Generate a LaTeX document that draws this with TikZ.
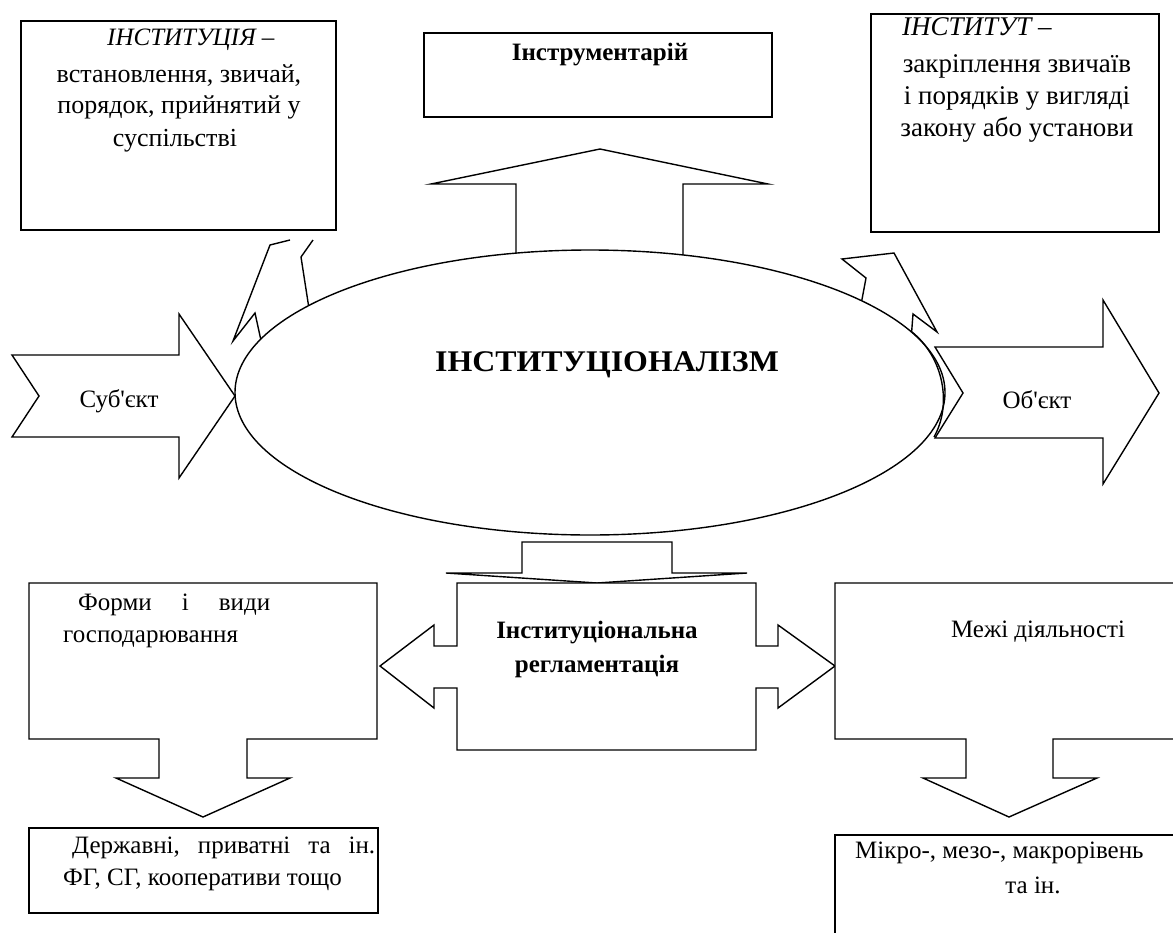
\documentclass[tikz,border=0pt]{standalone}
\usepackage{fontspec}
\usepackage{graphicx}
\setmainfont{Liberation Serif}[Ligatures=TeXOff]
\usetikzlibrary{shapes.geometric}
\begin{document}
\begin{tikzpicture}[x=1pt,y=-1pt,
  shp/.style={draw=black, line width=1.4pt, line join=miter, fill=white},
  ln/.style={draw=black, line width=1.4pt, line join=miter},
  txt/.style={inner sep=0pt, font=\fontsize{25}{30}\selectfont},
  btxt/.style={inner sep=0pt, font=\fontsize{25}{30}\selectfont\bfseries},
  rtxt/.style={inner sep=0pt, font=\fontsize{27}{32}\selectfont}]
\useasboundingbox (0,0) rectangle (1173,932);
\fill[white] (0,0) rectangle (1173,932);

% top boxes
\draw[shp] (21,21) rectangle (336,230);
\draw[shp] (424,33) rectangle (772,117);
\draw[shp] (871,14) rectangle (1159,232);

% small curved arrows (visible fragments)
\draw[ln] (262,345) -- (255,313) -- (233,341) -- (270,245) -- (290,240);
\draw[ln] (313,240) -- (301,257) -- (310,315);
\draw[ln] (860,310) -- (866,278) -- (842,259) -- (894,253) -- (937,332) -- (913,314) -- (911,340);

% up arrow
\draw[shp] (516,270) -- (516,184) -- (431,184) -- (600,149) -- (768,184) -- (683,184) -- (683,270);

% side arrows
\draw[shp] (12,355) -- (179,355) -- (179,314) -- (235,396) -- (179,478) -- (179,437) -- (12,437) -- (39,396) -- cycle;
\draw[shp] (935,347) -- (1103,347) -- (1103,300) -- (1159,393) -- (1103,484) -- (1103,438) -- (935,438) -- (963,393) -- cycle;

% ellipse
\node[shp, ellipse, minimum width=710pt, minimum height=285pt, inner sep=0pt] (ell) at (590,392.5) {};
\draw[ln] (912,332) .. controls (944,358) and (952,405) .. (934,437);

% down arrow to regulation box
\draw[shp] (522,573) -- (522,542) -- (672,542) -- (672,573) -- (747,573) -- (597,583) -- (446,573) -- cycle;

% regulation box with double arrow
\draw[shp] (457,583) -- (756,583) -- (756,646) -- (778,646) -- (778,625) -- (835,666) -- (778,708) -- (778,688) -- (756,688) -- (756,750) -- (457,750) -- (457,688) -- (434,688) -- (434,708) -- (380,666) -- (434,625) -- (434,646) -- (457,646) -- cycle;

% bottom-left
\draw[shp] (29,583) -- (377,583) -- (377,739) -- (247,739) -- (247,778) -- (290,778) -- (203,817) -- (116,778) -- (159,778) -- (159,739) -- (29,739) -- cycle;
\draw[shp] (29,828) rectangle (378,913);

% bottom-right
\draw[shp] (835,583) -- (1185,583) -- (1185,739) -- (1053,739) -- (1053,778) -- (1097,778) -- (1009,817) -- (923,778) -- (966,778) -- (966,739) -- (835,739) -- cycle;
\draw[shp] (835,835) rectangle (1185,945);

% texts
\node[txt, anchor=base west] (t1a) at (107,45) {\itshape ІНСТИТУЦІЯ –};
\node[txt, anchor=base, font=\fontsize{26}{31}\selectfont] (t1b) at (179,82) {встановлення, звичай,};
\node[txt, anchor=base, font=\fontsize{26}{31}\selectfont] (t1c) at (179,113) {порядок, прийнятий у};
\node[txt, anchor=base, font=\fontsize{26}{31}\selectfont] (t1d) at (175,146) {суспільстві};

\node[btxt, anchor=base] (tinst) at (600,60) {Інструментарій};

\node[rtxt, anchor=base west] (t2a) at (902,35) {\itshape ІНСТИТУТ –};
\node[rtxt, anchor=base] (t2b) at (1017,72) {закріплення звичаїв};
\node[rtxt, anchor=base] (t2c) at (1017,104) {і порядків у вигляді};
\node[rtxt, anchor=base] (t2d) at (1017,136) {закону або установи};

\node[btxt, anchor=base, font=\fontsize{30}{36}\selectfont\bfseries] (ttitle) at (607,371) {\scalebox{1.062}[1]{ІНСТИТУЦІОНАЛІЗМ}};
\node[txt, anchor=base] (tsub) at (119,407) {Суб'єкт};
\node[txt, anchor=base] (tobj) at (1037,408) {Об'єкт};

\node[btxt, anchor=base] (treg1) at (597,638) {Інституціональна};
\node[btxt, anchor=base] (treg2) at (597,672) {регламентація};

\node[txt, anchor=base west] (tf1) at (78,610) {\hbox to 192pt{Форми\hfill і\hfill види}};
\node[txt, anchor=base west] (tf2) at (63,642) {господарювання};
\node[txt, anchor=base west] (td1) at (72,853) {\hbox to 303pt{Державні,\hfill приватні\hfill та\hfill ін.}};
\node[txt, anchor=base west] (td2) at (63,885) {ФГ, СГ, кооперативи тощо};

\node[txt, anchor=base] (tm1) at (1038,637) {Межі діяльності};
\node[txt, anchor=base west] (tm2) at (855,858) {Мікро-, мезо-, макрорівень};
\node[txt, anchor=base] (tm3) at (1033,893) {та ін.};
\end{tikzpicture}
\end{document}
